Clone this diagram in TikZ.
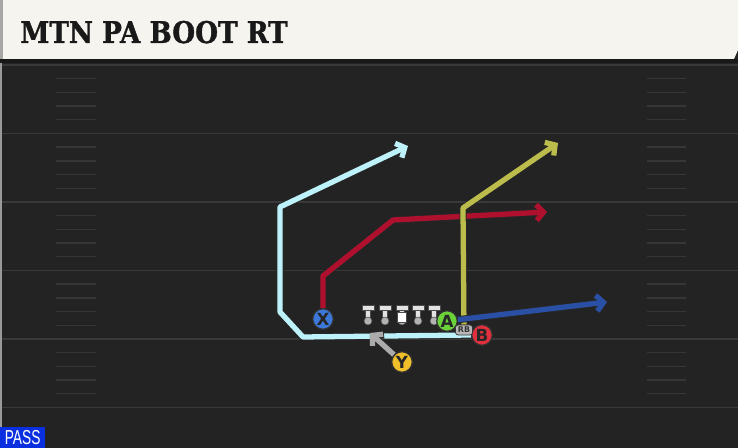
\documentclass[tikz,border=0pt]{standalone}
\usepackage{fontspec}
\usepackage{xcolor}
\usepackage{graphicx}
\usetikzlibrary{arrows.meta}
\newfontfamily\titlefont{DejaVu Serif}[FakeStretch=0.88, BoldFeatures={FakeBold=1.2}]
\newfontfamily\playerfont{DejaVu Sans}
\newfontfamily\passfont{Liberation Sans}
\definecolor{field}{HTML}{232323}
\definecolor{yardline}{HTML}{393939}
\definecolor{hashline}{HTML}{363636}
\definecolor{titlebg}{HTML}{F6F4EE}
\definecolor{cyanroute}{HTML}{BDF2FA}
\definecolor{redroute}{HTML}{AE102E}
\definecolor{oliveroute}{HTML}{BCBC4C}
\definecolor{blueroute}{HTML}{2A50A6}
\definecolor{greyroute}{HTML}{ABABAB}
\definecolor{xcol}{HTML}{3C78D8}
\definecolor{acol}{HTML}{6BD23A}
\definecolor{bcol}{HTML}{E0303E}
\definecolor{ycol}{HTML}{F0C02A}
\definecolor{passblue}{HTML}{0A2FE0}
\pgfdeclarelayer{fieldlayer}
\pgfdeclarelayer{routelayer}
\pgfsetlayers{fieldlayer,routelayer,main}

\begin{document}
\begin{tikzpicture}[x=0.02cm, y=-0.02cm,
    route/.style={line width=3pt, line join=round, -{Straight Barb[length=4pt,width=9pt]}, preaction={draw=black!85, line width=4pt}},
    player/.style={circle, draw=black!80, line width=0.7pt, minimum size=0.41cm, inner sep=0pt, font=\playerfont\bfseries\fontsize{9.5}{9.5}\selectfont, text=black!85},
    rbbox/.style={draw=black!80, fill=gray!55, rounded corners=1.5pt, line width=0.4pt, minimum width=0.34cm, minimum height=0.2cm, inner sep=0pt, font=\playerfont\bfseries\fontsize{4.5}{4.5}\selectfont, text=black!80},
    lineman/.style={fill=gray!22, draw=black!70, line width=0.3pt}]
    \useasboundingbox (0,0) rectangle (738,448);
    % Field
    \begin{pgfonlayer}{fieldlayer}
    \fill[field] (0,0) rectangle (738,448);
    \fill[black!40] (0,59) rectangle (2,448);
    \fill[black!90] (0,59) rectangle (738,63);
    \foreach \yl in {65,133.5,202,270.5,339,407.5}
        \draw[yardline, line width=1pt] (2,\yl) -- (738,\yl);
    \foreach \yl in {65,133.5,202,270.5,339} {
        \foreach \k in {1,2,3,4} {
            \draw[hashline, line width=0.8pt] (56,\yl+13.7*\k) -- (96,\yl+13.7*\k);
            \draw[hashline, line width=0.8pt] (647,\yl+13.7*\k) -- (686,\yl+13.7*\k);
        }
    }
    \end{pgfonlayer}
    % Title
    \fill[titlebg] (3,0) -- (738,0) -- (738,50) -- (734,59) -- (3,59) -- cycle;
    \fill[black!35] (0,0) rectangle (3,59);
    \node[anchor=base west, inner sep=0pt, font=\titlefont\bfseries\fontsize{17}{17}\selectfont, text=black!90] (title) at (20,43) {MTN PA BOOT RT};
    % Line
    \foreach \lx in {368,385,402,418,434} {
        \filldraw[lineman] (\lx-6,305) rectangle (\lx+6,310);
        \filldraw[lineman] (\lx-2.5,310) rectangle (\lx+2.5,318.5);
        \filldraw[fill=gray!60, draw=black!70, line width=0.3pt] (\lx,321) circle (0.08cm);
    }
    \filldraw[fill=white, draw=black!70, line width=0.3pt] (397.5,312) rectangle (406.5,322);
    % Nodes
    \node[player, fill=xcol] (x) at (323,319) {X};
    \node[player, fill=acol] (a) at (447,321) {A};
    \node[player, fill=bcol] (b) at (482,335) {B};
    \node[player, fill=ycol] (y) at (402,362) {Y};
    \node[rbbox] (rb) at (464,330) {RB};
    \coordinate (cEnd) at (408,146);
    \coordinate (xEnd) at (547,212);
    \coordinate (rbEnd) at (558,143);
    \coordinate (aEnd) at (607,302);
    \coordinate (yEnd) at (370,333);
    % Routes
    \begin{pgfonlayer}{routelayer}
    \draw[route, cyanroute] (b.west) -- (303,337) -- (280,312) -- (280,207) -- (cEnd);
    \draw[route, redroute] (x) -- (323,276) -- (393,220) -- (xEnd);
    \draw[route, oliveroute] (rb) -- (463,208) -- (rbEnd);
    \draw[route, blueroute] (a) -- (aEnd);
    \draw[route, greyroute] (y) -- (yEnd);
    \end{pgfonlayer}
    % Play type
    \fill[passblue] (0,427) rectangle (45,448);
    \node[anchor=base west, inner sep=0pt, text=white, font=\passfont\fontsize{11.5}{11.5}\selectfont] (pass) at (4.5,445) {\scalebox{0.68}[1]{PASS}};
\end{tikzpicture}
\end{document}
